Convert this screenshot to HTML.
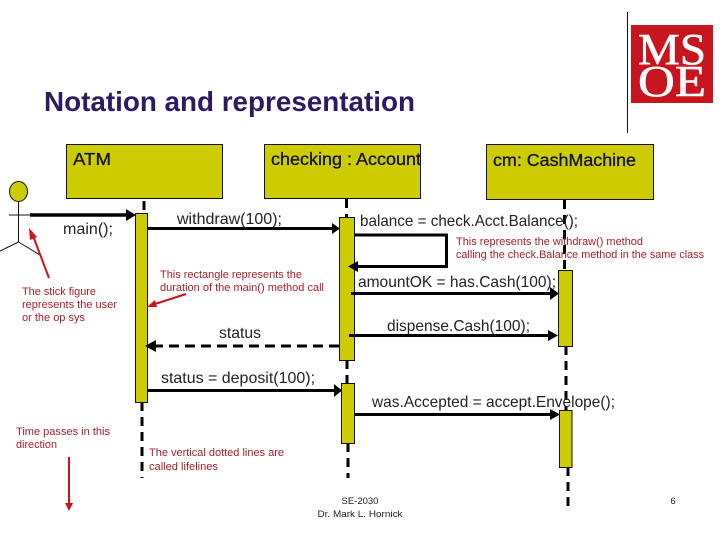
<!DOCTYPE html>
<html><head><meta charset="utf-8"><style>
html,body{margin:0;padding:0;background:#fff}
svg{display:block}
text{font-family:"Liberation Sans",sans-serif}
.b{font-size:16px;fill:#222}
.r{font-size:10.8px;fill:#a8202c}
.t{font-size:17.500px;fill:#111;stroke:#111;stroke-width:.3}
.y{fill:#cccc00;stroke:#111;stroke-width:1}
.ln{stroke:#000;stroke-width:3;fill:none}
.ll{stroke:#000;stroke-width:3;stroke-dasharray:9 6;fill:none}
.logo{font-family:"Liberation Serif",serif;font-size:44px;fill:#fff;stroke:#fff;stroke-width:.6}
</style></head><body>
<svg width="720" height="540" viewBox="0 0 720 540" xmlns="http://www.w3.org/2000/svg">
<rect width="720" height="540" fill="#fff"/>
<text x="44" y="111" font-size="27.500" font-weight="bold" fill="#2d1a66" textLength="371" lengthAdjust="spacingAndGlyphs">Notation and representation</text>
<line x1="627.500" y1="12" x2="627.500" y2="133" stroke="#111" stroke-width="1"/>
<rect x="631" y="25" width="82" height="78" fill="#c8141c"/>
<text class="logo" x="638" y="64" textLength="68" lengthAdjust="spacingAndGlyphs">MS</text>
<text class="logo" x="638" y="96" textLength="68" lengthAdjust="spacingAndGlyphs">OE</text>

<rect class="y" x="66.500" y="144.500" width="156" height="54"/>
<rect class="y" x="264.500" y="144.500" width="156" height="54"/>
<rect class="y" x="486.500" y="144.500" width="167" height="55"/>
<text class="t" x="73" y="165" textLength="38" lengthAdjust="spacingAndGlyphs">ATM</text>
<text class="t" x="271" y="165" textLength="150" lengthAdjust="spacingAndGlyphs">checking : Account</text>
<text class="t" x="493" y="166" textLength="143" lengthAdjust="spacingAndGlyphs">cm: CashMachine</text>

<line class="ll" x1="144" y1="201" x2="144" y2="213"/>
<line class="ll" x1="346.500" y1="199" x2="346.500" y2="217"/>
<line class="ll" x1="564.500" y1="200" x2="564.500" y2="270"/>
<line class="ll" x1="347" y1="360" x2="347" y2="383"/>
<line class="ll" x1="566" y1="346" x2="566" y2="410"/>
<line class="ll" x1="142" y1="402" x2="142" y2="478"/>
<line class="ll" x1="348" y1="443" x2="348" y2="478"/>
<line class="ll" x1="568" y1="467" x2="568" y2="510"/>

<rect class="y" x="135.500" y="213.500" width="12" height="189"/>
<rect class="y" x="339.500" y="217.500" width="15" height="143"/>
<rect class="y" x="558.500" y="270.500" width="14" height="76"/>
<rect class="y" x="341.500" y="383.500" width="13" height="60"/>
<rect class="y" x="559.500" y="410.500" width="12.500" height="57"/>

<ellipse cx="18.500" cy="191.500" rx="9" ry="10" fill="#cccc00" stroke="#111"/>
<path d="M18.500 202V242M9 215H30M18.500 242L-2 252M18.500 242L40 255" stroke="#111" stroke-width="1" fill="none"/>

<path d="M30 215H128" stroke="#000" stroke-width="3.500" fill="none"/><path d="M126 209L136 215L126 221Z" fill="#000"/>
<path class="ln" d="M147 228.500H333"/><path d="M332 223L340 228.500L332 234Z" fill="#000"/>
<path class="ln" d="M355 235H446.500V266.500H355"/><path d="M358 261L348 266.500L358 272Z" fill="#000"/>
<path class="ln" d="M351 293.500H552"/><path d="M550 287L559 293.500L550 300Z" fill="#000"/>
<path class="ln" d="M349 335.500H552"/><path d="M548 330L558 335.500L548 341Z" fill="#000"/>
<line x1="339" y1="346" x2="154" y2="346" stroke="#000" stroke-width="3" stroke-dasharray="10 6"/>
<path d="M156 340L145 346L156 352Z" fill="#000"/>
<path class="ln" d="M147 390.500H336"/><path d="M334 384L342 390.500L334 397Z" fill="#000"/>
<path class="ln" d="M355 414.500H553"/><path d="M550 409L560 414.500L550 420Z" fill="#000"/>

<text class="b" x="63" y="234" textLength="50" lengthAdjust="spacingAndGlyphs">main();</text>
<text class="b" x="177" y="224" textLength="105" lengthAdjust="spacingAndGlyphs">withdraw(100);</text>
<text class="b" x="360" y="226" textLength="218" lengthAdjust="spacingAndGlyphs">balance = check.Acct.Balance();</text>
<text class="b" x="358" y="287" textLength="198" lengthAdjust="spacingAndGlyphs">amountOK = has.Cash(100);</text>
<text class="b" x="387" y="331" textLength="143" lengthAdjust="spacingAndGlyphs">dispense.Cash(100);</text>
<text class="b" x="219" y="338" textLength="42" lengthAdjust="spacingAndGlyphs">status</text>
<text class="b" x="161" y="383" textLength="154" lengthAdjust="spacingAndGlyphs">status = deposit(100);</text>
<text class="b" x="372" y="407" textLength="243" lengthAdjust="spacingAndGlyphs">was.Accepted = accept.Envelope();</text>

<text class="r" x="22" y="295" textLength="74" lengthAdjust="spacingAndGlyphs">The stick figure</text>
<text class="r" x="22" y="308" textLength="95" lengthAdjust="spacingAndGlyphs">represents the user</text>
<text class="r" x="22" y="321" textLength="63" lengthAdjust="spacingAndGlyphs">or the op sys</text>
<text class="r" x="160" y="278" textLength="142" lengthAdjust="spacingAndGlyphs">This rectangle represents the</text>
<text class="r" x="160" y="291" textLength="164" lengthAdjust="spacingAndGlyphs">duration of the main() method call</text>
<text class="r" x="456" y="245" textLength="187" lengthAdjust="spacingAndGlyphs">This represents the withdraw() method</text>
<text class="r" x="456" y="258" textLength="248" lengthAdjust="spacingAndGlyphs">calling the check.Balance method in the same class</text>
<text class="r" x="16" y="435" textLength="94" lengthAdjust="spacingAndGlyphs">Time passes in this</text>
<text class="r" x="16" y="448" textLength="41" lengthAdjust="spacingAndGlyphs">direction</text>
<text class="r" x="149" y="456" textLength="135" lengthAdjust="spacingAndGlyphs">The vertical dotted lines are</text>
<text class="r" x="149" y="470" textLength="69" lengthAdjust="spacingAndGlyphs">called lifelines</text>

<path d="M49 278L32 233" stroke="#c8141c" stroke-width="2" fill="none"/>
<path d="M29 228L37 237L30 240Z" fill="#c8141c"/>
<path d="M186 294L152 305" stroke="#c8141c" stroke-width="2" fill="none"/>
<path d="M147 307L155 300L157 307Z" fill="#c8141c"/>
<path d="M69 457V506" stroke="#c8141c" stroke-width="2" fill="none"/>
<path d="M65 503H73L69 511Z" fill="#c8141c"/>

<text x="360" y="504" text-anchor="middle" font-size="9.500" fill="#222">SE-2030</text>
<text x="360" y="517" text-anchor="middle" font-size="9.500" fill="#222" textLength="85" lengthAdjust="spacingAndGlyphs">Dr. Mark L. Hornick</text>
<text x="673" y="504" text-anchor="middle" font-size="9.500" fill="#222">6</text>
</svg>
</body></html>
